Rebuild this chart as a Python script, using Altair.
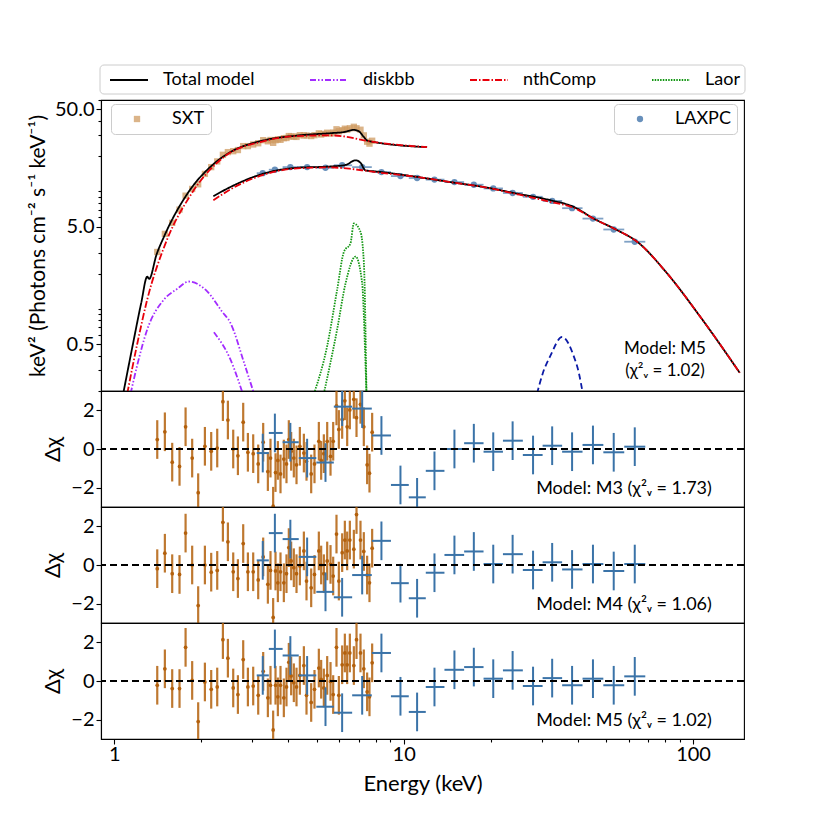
import altair as alt
import pandas as pd
import numpy as np

FONT = "Lato"

# ---------------- data ----------------
# SXT spectrum
sxt_E = [1.408, 1.496, 1.586, 1.681, 1.764, 1.859, 1.950, 2.057, 2.163, 2.269, 2.374, 2.470, 2.577, 2.675,
         2.790, 2.896, 3.021, 3.144, 3.271, 3.395, 3.467, 3.541, 3.608, 3.676, 3.754, 3.855, 3.937, 4.011,
         4.086, 4.174, 4.264, 4.379, 4.521, 4.617, 4.792, 4.920, 5.093, 5.188, 5.300, 5.443, 5.589, 5.709,
         5.861, 5.972, 6.132, 6.264, 6.381, 6.518, 6.729, 6.873, 7.094, 7.284, 7.479, 7.620, 7.784]
sxt_flux = [3.05, 4.35, 5.4, 7.0, 9.2, 10.5, 11.5, 14.1, 16.1, 18.0, 20.5, 21.6, 22.0, 22.5, 24.3, 24.3, 25.1,
            25.7, 27.3, 26.7, 27.4, 25.9, 27.3, 27.8, 27.5, 28.4, 28.5, 29.6, 29.3, 29.3, 29.1, 30.1, 30.0,
            29.9, 29.6, 30.1, 31.2, 30.5, 30.9, 31.6, 31.0, 31.7, 33.8, 32.5, 33.2, 34.2, 33.5, 34.5, 35.5,
            34.5, 33.5, 30.0, 26.5, 25.5, 27.0]
sxt_res_M3 = [0.49, 0.89, -0.68, -0.90, 1.15, -0.47, -2.26, 0.14, -0.12, 0.05, 2.45, 1.50, 0.0, -0.35, 1.39,
              -0.17, -0.24, -0.77, 0.35, -1.17, -0.47, -2.96, -1.22, -0.59, -1.29, -0.52, -0.77, 0.49, -0.12,
              -0.47, -0.82, 0.14, -0.21, -0.64, -1.29, -0.77, 0.40, -0.59, -0.24, 0.40, -0.38, 0.40, 2.23, 1.01,
              1.53, 2.49, 1.15, 2.02, 2.57, 1.62, 2.31, 1.15, -0.82, -1.25, 0.87]
sxt_res_M4 = [-0.19, 0.61, -0.45, -0.49, 1.65, 0.0, -2.10, 0.0, -0.37, -0.28, 2.21, 1.2, -0.35, -0.70, 1.11,
              -0.35, -0.35, -0.77, 0.42, -1.0, -0.28, -2.71, -0.31, -0.92, -0.35, -0.92, -0.45, 0.90, 0.21,
              -0.14, -0.45, -0.05, 0.73, -0.83, -1.18, -0.49, 0.73, 0.0, -0.45, 0.21, 0.03, -0.57, 1.6, -0.83,
              0.64, 1.29, 0.73, 1.29, 0.82, 2.61, 1.29, 0.70, -0.52, -0.92, 0.87]
sxt_res_M5 = [-0.22, 0.63, -0.39, -0.39, 1.74, 0.03, -2.1, -0.05, -0.43, -0.31, 2.14, 1.18, -0.36, -0.70, 1.11,
              -0.31, -0.26, -0.74, 0.5, -0.87, -0.22, -2.53, -0.22, -0.82, -0.22, -0.87, -0.31, 0.97, 0.26,
              -0.09, -0.31, 0.29, 0.80, -0.74, -1.11, -0.43, 0.67, 0.09, -0.36, 0.29, -0.02, -0.70, 1.74, -0.74,
              0.84, 1.45, 0.84, 1.45, 0.80, 2.14, 1.45, 0.63, -0.56, -0.82, 0.94]

# LAXPC spectrum
lax_E = [3.26, 3.59, 4.06, 4.64, 5.37, 6.13, 7.19, 8.38, 9.75, 11.13, 12.78, 14.98, 17.48, 20.4, 23.8,
         28.0, 32.6, 38.2, 45.1, 53.2, 62.9]
lax_flux = [14.3, 15.3, 16.1, 16.1, 15.9, 16.7, 16.1, 14.6, 13.5, 13.0, 12.6, 12.0, 11.4, 10.6, 9.7, 9.0,
            8.3, 7.2, 5.87, 4.74, 3.73]
lax_res_M3 = [-0.21, 0.83, 0.35, -0.47, -0.70, 2.19, 2.09, 0.70, -1.86, -2.50, -1.13, 0.0, 0.30, -0.14, 0.43,
              -0.31, 0.17, -0.14, 0.21, -0.17, 0.12]
lax_res_M4 = [0.24, 1.65, 1.34, 0.42, -1.39, -1.67, -0.52, 1.25, -0.94, -1.72, -0.40, 0.52, 0.70, 0.05, 0.56,
              -0.26, 0.14, -0.23, 0.05, -0.31, 0.05]
lax_res_M5 = [0.29, 1.66, 1.32, 0.29, -1.33, -1.64, -0.74, 1.45, -0.79, -1.60, -0.31, 0.58, 0.72, 0.12, 0.55,
              -0.26, 0.15, -0.22, 0.12, -0.22, 0.24]

# model curves
sxt_tot_E = [1.074, 1.16, 1.24, 1.30, 1.32, 1.40, 1.485, 1.79, 2.21, 2.52, 3.29, 4.29, 5.57, 6.2, 6.73, 7.0, 7.29, 7.5, 12.05]
sxt_tot_v = [0.19, 0.50, 1.13, 1.88, 1.80, 2.9, 4.11, 9.57, 17.2, 21.6, 27.2, 29.9, 31.3, 32.0, 33.4, 32.5, 29.0, 27.0, 23.8]
sxt_nth_E = [1.109, 1.20, 1.30, 1.504, 1.835, 2.39, 3.29, 4.29, 5.57, 6.22, 7.29, 12.05]
sxt_nth_v = [0.19, 0.50, 1.20, 3.61, 9.29, 19.6, 26.8, 29.6, 30.0, 29.4, 27.2, 23.8]
lax_tot_E = [2.20, 2.52, 3.29, 4.29, 5.57, 6.3, 6.82, 7.1, 7.38, 8.0, 11.1, 14.5, 18.9, 24.7, 32.1, 38.7, 45.4,
             54.6, 64.1, 81.3, 105.7, 145]
lax_tot_v = [9.1, 10.9, 14.2, 15.9, 16.3, 16.8, 18.4, 17.5, 15.1, 14.8, 13.3, 12.0, 10.9, 9.57, 8.42, 7.38, 5.87,
             4.69, 3.73, 2.01, 0.863, 0.286]
lax_nth_E = [2.20, 2.52, 3.29, 4.29, 5.57, 6.5, 7.38, 8.0, 11.1, 14.5, 18.9, 24.7, 32.1, 38.7, 45.4, 54.6, 64.1,
             81.3, 105.7, 145]
lax_nth_v = [8.4, 10.4, 13.9, 15.7, 16.0, 15.6, 15.0, 14.6, 13.3, 12.0, 10.9, 9.45, 8.15, 7.25, 5.85, 4.69, 3.73,
             2.01, 0.863, 0.286]
dbb1_E = [1.139, 1.20, 1.30, 1.485, 1.65, 1.81, 2.095, 2.35, 2.52, 2.81, 3.04]
dbb1_v = [0.19, 0.33, 0.667, 1.20, 1.48, 1.71, 1.41, 0.96, 0.76, 0.347, 0.19]
dbb2_E = [2.21, 2.52, 2.78]
dbb2_v = [0.632, 0.371, 0.19]
laor1_E = [4.90, 5.44, 5.89, 6.22, 6.55, 6.73, 7.09, 7.29, 7.44]
laor1_v = [0.19, 0.481, 1.45, 3.07, 3.61, 5.33, 4.54, 2.44, 0.19]
laor2_E = [5.30, 5.89, 6.30, 6.82, 7.19, 7.38, 7.44]
laor2_v = [0.19, 0.667, 1.65, 2.79, 1.65, 0.347, 0.19]
gau_E = [28.9, 30.3, 32.1, 35.3, 38.7, 40.3, 41.6]
gau_v = [0.19, 0.286, 0.396, 0.577, 0.396, 0.286, 0.19]

comp_names = ["Total model", "diskbb", "nthComp", "Laor"]
comp_colors = ["#000000", "#a32cff", "#e8000b", "#129612"]
comp_dash = [[1, 0], [6, 2, 1.5, 2, 1.5, 2], [7, 2, 1.5, 2], [1.5, 1.2]]

fits = [("M3", "1.73"), ("M4", "1.06"), ("M5", "1.02")]

# ---------------- tables ----------------
def curve(name, comp, E, v):
    return pd.DataFrame({"E": E, "v": v, "comp": comp, "curve": name})

models = pd.concat([
    curve("sxt_tot", "Total model", sxt_tot_E, sxt_tot_v),
    curve("lax_tot", "Total model", lax_tot_E, lax_tot_v),
    curve("sxt_nth", "nthComp", sxt_nth_E, sxt_nth_v),
    curve("lax_nth", "nthComp", lax_nth_E, lax_nth_v),
    curve("dbb1", "diskbb", dbb1_E, dbb1_v),
    curve("dbb2", "diskbb", dbb2_E, dbb2_v),
    curve("laor1", "Laor", laor1_E, laor1_v),
    curve("laor2", "Laor", laor2_E, laor2_v),
], ignore_index=True)
gauss = pd.DataFrame({"E": gau_E, "v": gau_v})

sxt = pd.DataFrame({"E": sxt_E, "v": sxt_flux, "inst": "SXT",
                    "M3": sxt_res_M3, "M4": sxt_res_M4, "M5": sxt_res_M5})
le = np.array(lax_E)
edges = np.sqrt(le[1:] * le[:-1])
lo = np.concatenate([[le[0] ** 2 / edges[0]], edges])
hi = np.concatenate([edges, [le[-1] ** 2 / edges[-1]]])
lax = pd.DataFrame({"E": lax_E, "v": lax_flux, "lo": lo, "hi": hi, "inst": "LAXPC",
                    "M3": lax_res_M3, "M4": lax_res_M4, "M5": lax_res_M5})
one = pd.DataFrame({"z": [0]})

# ---------------- styling ----------------
W = 643
C_SXT = "#cf9b62"
C_LAX = "#6890bb"
C_SXT_R = "#b3600c"
C_LAX_R = "#3a73a8"
LABEL_FS = 20

xscale = alt.Scale(type="log", domain=[0.9, 150], nice=False)
yscale = alt.Scale(type="log", domain=[0.2, 60], nice=False)
rscale = alt.Scale(domain=[-3, 3], nice=False)

xnoaxis = alt.X("E:Q", scale=xscale, axis=None)
ytop_vals = [0.2, 0.3, 0.4, 0.5, 0.6, 0.7, 0.8, 0.9, 1, 2, 3, 4, 5, 6, 7, 8, 9, 10, 20, 30, 40, 50, 60]
ytop_axis = alt.Axis(values=ytop_vals,
                     labelExpr="datum.value == 0.5 ? '0.5' : datum.value == 5 ? '5.0' : datum.value == 50 ? '50.0' : ''",
                     tickSize={"condition": {"test": "datum.value == 0.5 || datum.value == 5 || datum.value == 50",
                                             "value": 5}, "value": 3},
                     title="keV² (Photons cm⁻² s⁻¹ keV⁻¹)", titleFontSize=21, titlePadding=6, labelPadding=2)

# ---------------- top panel ----------------
legend_box = alt.Chart(one).mark_rect(fill="white", stroke="#cccccc", strokeWidth=1, cornerRadius=4).encode(
    x=alt.value(-1), x2=alt.value(644), y=alt.value(-35), y2=alt.value(-6))

lax_xerr = alt.Chart(lax).mark_rule(color=C_LAX, strokeWidth=1.8, opacity=0.85, clip=True).encode(
    x=alt.X("lo:Q", scale=xscale, axis=None), x2="hi:Q", y=alt.Y("v:Q", scale=yscale, axis=ytop_axis))

sxt_pts = alt.Chart(sxt).mark_square(size=40, opacity=0.75, clip=True).encode(
    x=xnoaxis, y=alt.Y("v:Q", scale=yscale),
    fill=alt.Fill("inst:N", scale=alt.Scale(domain=["SXT"], range=[C_SXT]),
                  legend=alt.Legend(orient="none", legendX=10, legendY=4, title=None,
                                    labelFont=FONT, labelFontSize=18, labelColor="black",
                                    symbolSize=40, symbolOpacity=0.75, symbolOffset=11, labelOffset=26,
                                    padding=6, strokeColor="#cccccc", fillColor="white",
                                    cornerRadius=4)))
lax_pts = alt.Chart(lax).mark_point(filled=True, size=40, color=C_LAX, opacity=1, clip=True).encode(
    x=xnoaxis, y=alt.Y("v:Q", scale=yscale),
    shape=alt.Shape("inst:N", scale=alt.Scale(domain=["LAXPC"], range=["circle"]),
                    legend=alt.Legend(orient="none", legendX=513, legendY=4, title=None,
                                      labelFont=FONT, labelFontSize=18, labelColor="black",
                                      symbolSize=40, symbolFillColor=C_LAX, symbolStrokeColor=C_LAX,
                                      symbolOffset=11, labelOffset=26,
                                      padding=6, strokeColor="#cccccc", fillColor="white",
                                      cornerRadius=4)))

comp_legend = alt.Legend(orient="none", legendX=8, legendY=-40, direction="horizontal", title=None,
                         symbolType="stroke", symbolSize=1444, symbolStrokeWidth=1.8,
                         labelFont=FONT, labelFontSize=18, labelColor="black", labelOffset=14,
                         columnPadding=51, padding=0)
model_lines = alt.Chart(models).mark_line(strokeWidth=1.8, clip=True, interpolate="monotone").encode(
    x=xnoaxis, y=alt.Y("v:Q", scale=yscale),
    color=alt.Color("comp:N", scale=alt.Scale(domain=comp_names, range=comp_colors), legend=comp_legend),
    strokeDash=alt.StrokeDash("comp:N", scale=alt.Scale(domain=comp_names, range=comp_dash), legend=comp_legend),
    detail="curve:N")
gauss_line = alt.Chart(gauss).mark_line(strokeWidth=1.8, color="#0b1aa6", strokeDash=[6, 3.5], clip=True,
                                        interpolate="monotone").encode(
    x=xnoaxis, y=alt.Y("v:Q", scale=yscale))

top_txt1 = alt.Chart(one).mark_text(text="Model:  M5", font=FONT, fontSize=17, align="center",
                                    color="black").encode(x=alt.value(564), y=alt.value(249))
top_txt2 = alt.Chart(one).mark_text(text="(χ²ᵥ = 1.02)", font=FONT, fontSize=17, align="center",
                                    color="black").encode(x=alt.value(564), y=alt.value(271))

top = alt.layer(legend_box, lax_xerr, sxt_pts, lax_pts, model_lines, gauss_line, top_txt1, top_txt2).properties(
    width=W, height=291)

# ---------------- residual panels ----------------
def residual_panel(model, chi, bottom):
    key = model
    if bottom:
        xvals = [1, 2, 3, 4, 5, 6, 7, 8, 9, 10, 20, 30, 40, 50, 60, 70, 80, 90, 100]
        xaxis = alt.Axis(values=xvals,
                         labelExpr="datum.value == 1 || datum.value == 10 || datum.value == 100 ? datum.value : ''",
                         tickSize={"condition": {"test": "datum.value == 1 || datum.value == 10 || datum.value == 100",
                                                 "value": 5}, "value": 3},
                         title="Energy (keV)", titleFontSize=22, titlePadding=9, labelPadding=0)
    else:
        xaxis = None
    xe = alt.X("E:Q", scale=xscale, axis=xaxis)
    yaxis = alt.Axis(values=[-2, 0, 2], title="Δχ", titleFontSize=22, tickSize=5, titlePadding=6, labelPadding=2)

    s_err = alt.Chart(sxt).transform_calculate(rlo=f"datum.{key} - 1", rhi=f"datum.{key} + 1").mark_rule(
        color=C_SXT_R, strokeWidth=2.2, opacity=0.85, clip=True).encode(
        x=xe, y=alt.Y("rlo:Q", scale=rscale, axis=yaxis), y2="rhi:Q")
    s_pt = alt.Chart(sxt).mark_circle(color=C_SXT_R, size=14, opacity=1, clip=True).encode(
        x=xe, y=alt.Y(f"{key}:Q", scale=rscale))
    l_verr = alt.Chart(lax).transform_calculate(rlo=f"datum.{key} - 1", rhi=f"datum.{key} + 1").mark_rule(
        color=C_LAX_R, strokeWidth=2, clip=True).encode(
        x=xe, y=alt.Y("rlo:Q", scale=rscale), y2="rhi:Q")
    l_herr = alt.Chart(lax).mark_rule(color=C_LAX_R, strokeWidth=2, clip=True).encode(
        x=alt.X("lo:Q", scale=xscale, axis=xaxis), x2="hi:Q", y=alt.Y(f"{key}:Q", scale=rscale))
    zero = alt.Chart(one).mark_rule(color="black", strokeWidth=2.2, strokeDash=[7, 4]).encode(
        y=alt.Y("z:Q", scale=rscale))
    txt = alt.Chart(one).mark_text(text=f"Model:  {model} (χ²ᵥ = {chi})", font=FONT, fontSize=18,
                                   align="center", color="black").encode(
        x=alt.value(523), y=alt.value(98))
    return alt.layer(s_err, s_pt, l_verr, l_herr, zero, txt).properties(width=W, height=116)

panels = [residual_panel(m, c, i == 2) for i, (m, c) in enumerate(fits)]

chart = alt.vconcat(top, *panels, spacing=0, bounds="flush").resolve_legend(
    color="independent", strokeDash="independent", fill="independent", shape="independent"
).properties(
    padding={"left": 18, "top": 51, "right": 5, "bottom": 5}
).configure_view(stroke="black", strokeWidth=1.1).configure_axis(
    labelFont=FONT, titleFont=FONT, labelFontSize=LABEL_FS, labelColor="black", titleColor="black",
    titleFontWeight="normal", tickColor="black", domainColor="black", domainWidth=1.1, tickWidth=1.1,
    grid=False
).configure_concat(spacing=0)

chart.save("out.html", embed_options={"renderer": "svg", "actions": False})
